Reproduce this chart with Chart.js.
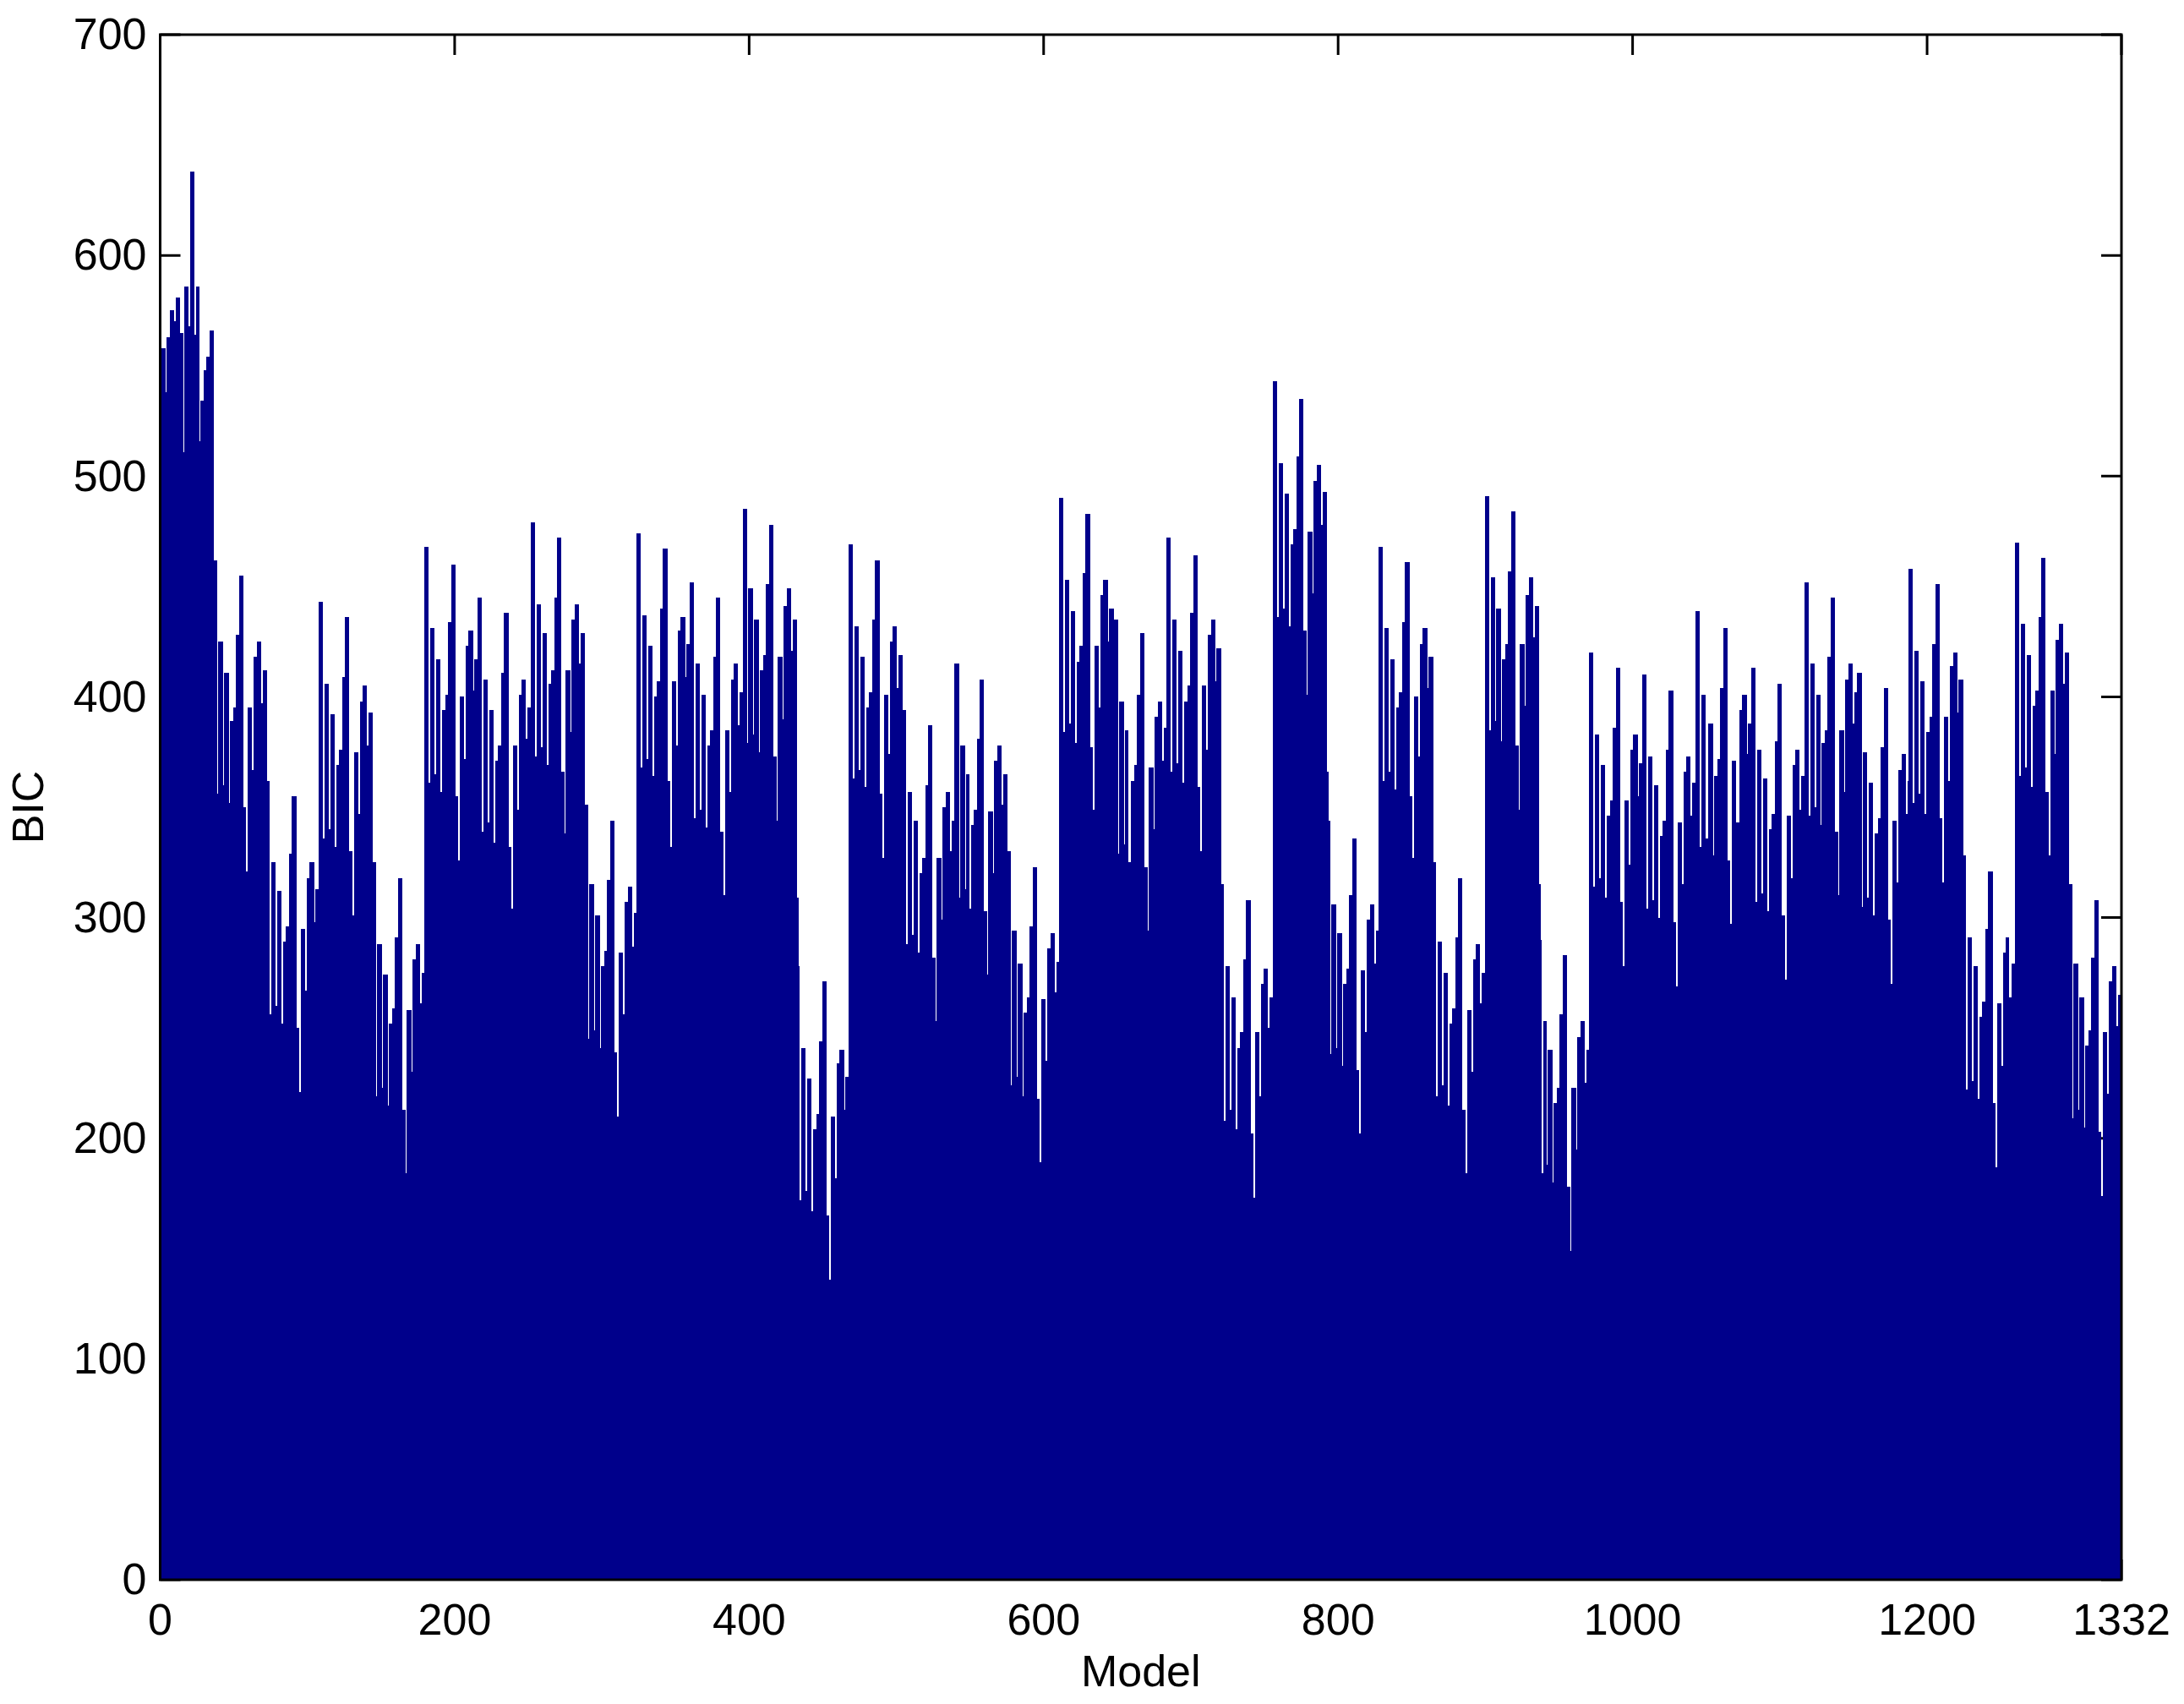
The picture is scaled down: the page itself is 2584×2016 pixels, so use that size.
<!DOCTYPE html>
<html>
<head>
<meta charset="utf-8">
<title>BIC per model</title>
<script src="https://cdn.jsdelivr.net/npm/chart.js@4"></script>
<style>
  html, body { margin: 0; padding: 0; background: #fff; }
  canvas { display: block; }
</style>
</head>
<body>
<canvas id="chart" width="2584" height="2016"></canvas>
<script>
// values, one per model, left to right
const BIC = [
  558,558,558,538,563,563,575,575,575,570,581,581,581,565,565,511,586,586,586,568,638,638,638,564,586,586,516,534,534,548,548,554,554,566,566,566,462,462,356,425,425,425,360,411,411,411,352,389,389,395,395,428,428,455,455,455,350,350,321,395,395,395,367,418,418,425,425,425,397,412,412,412,362,362,256,325,325,325,260,312,312,312,252,289,289,296,296,329,329,355,355,355,250,250,221,295,295,295,267,318,318,325,325,325,298,313,313,443,443,443,336,406,406,406,340,392,392,392,332,369,369,376,376,409,409,436,436,436,330,330,301,
  375,375,375,347,398,398,405,405,405,378,393,393,393,325,325,219,288,288,288,223,274,274,274,215,252,252,259,259,291,291,318,318,318,213,213,184,258,258,258,230,281,281,288,288,288,261,275,275,468,468,468,361,431,431,431,365,417,417,417,357,394,394,401,401,434,434,460,460,460,355,355,326,400,400,400,372,423,423,430,430,430,403,417,417,445,445,445,339,408,408,408,343,394,394,394,334,371,371,378,378,411,411,438,438,438,332,332,304,378,378,378,349,401,401,408,408,408,381,395,395,479,479,479,373,442,442,442,377,
  429,429,429,369,406,406,412,412,445,445,472,472,472,366,366,338,412,412,412,384,435,435,442,442,442,415,429,429,429,351,351,245,315,315,315,249,301,301,301,241,278,278,285,285,317,317,344,344,344,239,239,210,284,284,284,256,307,307,314,314,314,287,302,302,474,474,474,368,437,437,437,372,423,423,423,364,400,400,407,407,440,440,467,467,467,362,362,332,407,407,407,378,430,430,436,436,436,409,424,424,452,452,452,345,415,415,415,349,401,401,401,341,378,378,385,385,418,418,445,445,445,339,339,310,385,385,385,357,408,408,415,415,415,387,402,402,
  485,485,485,379,449,449,449,383,435,435,435,375,412,412,419,419,451,451,478,478,478,373,373,344,418,418,418,390,441,441,449,449,449,421,435,435,435,309,278,172,241,241,241,176,227,227,227,167,204,204,211,211,244,244,271,271,271,165,165,136,210,210,210,182,234,234,240,240,240,213,228,228,469,469,469,363,432,432,432,367,418,418,418,359,395,395,402,402,435,435,462,462,462,356,356,327,401,401,401,374,425,425,432,432,432,404,419,419,419,394,394,288,357,357,357,292,344,344,344,284,320,320,327,327,360,360,387,387,387,282,282,253,
  327,327,327,299,350,350,357,357,357,330,344,344,415,415,415,309,378,378,378,313,365,365,304,342,342,349,349,381,381,408,408,408,303,303,274,348,348,348,320,371,371,378,378,378,351,365,365,365,330,330,224,294,294,294,228,279,279,279,219,257,257,264,264,296,296,323,323,323,218,218,189,263,263,263,235,286,286,293,293,293,266,280,280,490,490,490,384,453,453,453,388,439,439,439,379,416,416,423,423,456,456,483,483,483,377,377,349,423,423,423,395,446,446,453,453,453,425,440,440,440,435,435,435,329,398,398,398,333,385,385,325,325,
  362,362,369,369,401,401,429,429,429,323,323,294,368,368,368,340,391,391,398,398,398,371,386,386,472,472,472,366,435,435,435,370,421,421,421,361,398,398,405,405,438,438,464,464,464,359,359,330,405,405,405,376,428,428,435,435,435,407,422,422,422,315,315,208,278,278,278,213,264,264,264,204,241,241,248,248,281,281,308,308,308,202,202,173,248,248,248,219,270,270,277,277,277,250,264,264,543,543,543,436,506,506,506,440,492,492,492,432,469,469,476,476,509,509,535,535,535,430,430,401,475,475,475,447,498,498,505,505,505,478,493,493,493,366,344,
  238,306,306,306,241,293,293,293,233,270,270,277,277,310,310,336,336,336,231,231,202,276,276,276,248,299,299,306,306,306,279,294,294,468,468,468,362,431,431,431,366,417,417,417,358,395,395,402,402,434,434,461,461,461,355,355,327,400,400,400,373,424,424,431,431,431,404,418,418,418,325,325,219,289,289,289,224,275,275,275,215,252,252,259,259,291,291,318,318,318,213,213,184,258,258,258,230,281,281,288,288,288,261,275,275,491,491,491,385,454,454,454,389,440,440,440,380,417,417,424,424,457,457,484,484,484,378,378,349,424,424,424,396,
  446,446,454,454,454,427,441,441,441,315,290,184,253,253,188,240,240,240,180,216,216,223,223,256,256,283,283,283,178,178,149,223,223,223,195,246,246,253,253,253,225,240,240,420,420,420,314,383,383,383,318,369,369,369,309,346,346,353,353,386,386,413,413,413,307,307,278,353,353,353,324,376,376,383,383,383,355,370,370,410,410,410,304,373,373,373,308,360,360,360,300,337,337,344,344,376,376,403,403,403,298,298,269,343,343,343,315,366,366,373,373,373,346,361,361,439,439,439,332,401,401,401,336,336,388,388,388,328,364,364,372,372,
  404,404,431,431,431,326,326,297,371,371,371,343,343,394,394,401,401,401,374,388,388,413,413,413,307,376,376,376,311,363,363,363,303,340,340,347,347,380,380,406,406,406,301,301,272,346,346,346,318,369,369,376,376,376,349,364,364,452,452,452,346,415,415,415,350,401,401,401,342,379,379,385,385,418,418,445,445,445,339,339,310,385,385,385,357,408,408,415,415,415,388,402,402,411,411,411,305,375,375,375,309,361,361,361,301,338,338,345,345,377,377,404,404,404,299,299,270,344,344,344,316,367,367,374,374,374,347,362,458,458,458,352,421,421,421,356,
  407,407,407,347,384,384,391,391,424,424,451,451,451,345,345,316,391,391,391,362,414,414,420,420,420,393,408,408,408,328,328,222,291,291,291,226,278,278,278,218,255,255,262,262,295,295,321,321,321,216,216,187,261,261,261,233,284,284,291,291,264,264,279,279,470,470,470,364,433,433,433,368,419,419,419,359,396,396,403,403,436,436,463,463,463,357,357,328,403,403,403,374,426,426,433,433,433,406,420,420,420,315,315,209,279,279,279,213,264,264,264,205,242,242,249,249,282,282,308,308,308,203,203,174,248,248,248,220,271,271,278,278,278,251,265,265,265
];
const X_TICKS = [0, 200, 400, 600, 800, 1000, 1200, 1332];
const Y_TICKS = [0, 100, 200, 300, 400, 500, 600, 700];

const BAR_COLOR = "#00008b";
const FONT = { family: "'Liberation Sans', Arial, sans-serif", size: 52 };

// matlab style box: ticks point inward and sit behind the bars
const insideTicks = {
  id: "insideTicks",
  beforeDatasetsDraw(chart) {
    const { ctx, chartArea: a, scales } = chart;
    const len = 24;

    // snap bar edges to whole pixels, otherwise the fill shows seams
    chart.getDatasetMeta(0).data.forEach((bar) => {
      const l = Math.round(bar.x - bar.width / 2);
      const r = Math.round(bar.x + bar.width / 2);
      bar.x = (l + r) / 2;
      bar.width = r - l;
      bar.y = Math.round(bar.y);
    });

    ctx.save();
    ctx.strokeStyle = "#000";
    ctx.lineWidth = 3;
    ctx.beginPath();
    X_TICKS.forEach((t) => {
      const x = scales.x.getPixelForValue(t);
      ctx.moveTo(x, a.top);
      ctx.lineTo(x, a.top + len);
      ctx.moveTo(x, a.bottom);
      ctx.lineTo(x, a.bottom - len);
    });
    Y_TICKS.forEach((t) => {
      const y = scales.y.getPixelForValue(t);
      ctx.moveTo(a.left, y);
      ctx.lineTo(a.left + len, y);
      ctx.moveTo(a.right, y);
      ctx.lineTo(a.right - len, y);
    });
    ctx.stroke();
    ctx.restore();
  },
  afterDraw(chart) {
    const { ctx, chartArea: a } = chart;
    ctx.save();
    ctx.strokeStyle = "#000";
    ctx.lineWidth = 3;
    ctx.strokeRect(a.left, a.top, a.right - a.left, a.bottom - a.top);
    ctx.restore();
  },
};

new Chart(document.getElementById("chart"), {
  type: "bar",
  data: {
    datasets: [{
      data: BIC.map((v, i) => ({ x: i + 1, y: v })),
      backgroundColor: BAR_COLOR,
      borderWidth: 0,
      inflateAmount: 0,
      barPercentage: 1,
      categoryPercentage: 1,
    }],
  },
  options: {
    responsive: false,
    animation: false,
    layout: { padding: { left: 0, top: 41, right: 74, bottom: 0 } },
    plugins: { legend: { display: false }, tooltip: { enabled: false } },
    scales: {
      x: {
        type: "linear",
        offset: false,
        min: 0,
        max: 1332,
        afterBuildTicks: (s) => { s.ticks = X_TICKS.map((value) => ({ value })); },
        afterFit: (s) => { s.height = 147; s.paddingLeft = 0; s.paddingRight = 0; },
        grid: { display: false, drawTicks: false },
        border: { display: false },
        ticks: { color: "#000", font: FONT, padding: 19, maxRotation: 0, autoSkip: false, callback: (v) => String(v) },
        title: { display: true, text: "Model", color: "#000", font: FONT, padding: { top: 0, bottom: 4 } },
      },
      y: {
        min: 0,
        max: 700,
        afterBuildTicks: (s) => { s.ticks = Y_TICKS.map((value) => ({ value })); },
        afterFit: (s) => { s.width = 189.5; s.paddingTop = 0; s.paddingBottom = 0; },
        grid: { display: false, drawTicks: false },
        border: { display: false },
        ticks: { color: "#000", font: FONT, padding: 16, labelOffset: 3 },
        title: { display: true, text: "BIC", color: "#000", font: FONT, padding: { top: 5, bottom: 0 } },
      },
    },
  },
  plugins: [insideTicks],
});
</script>
</body>
</html>
